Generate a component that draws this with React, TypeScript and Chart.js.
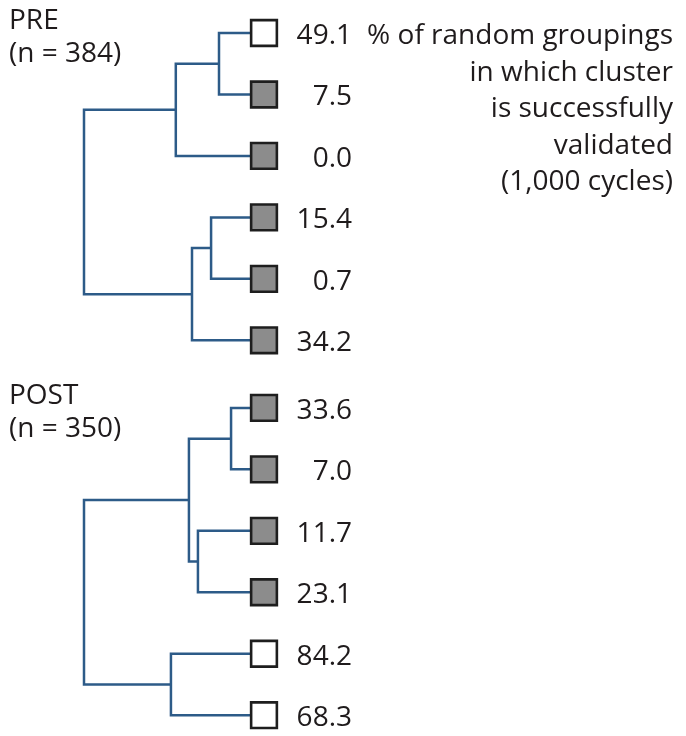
import React, { useEffect, useRef } from "react";
import { Chart, registerables } from "chart.js";

Chart.register(...registerables);

// Leaves (top to bottom)
const leafLabels = ["49.1", "7.5", "0.0", "15.4", "0.7", "34.2", "33.6", "7.0", "11.7", "23.1", "84.2", "68.3"];
const leafValues = [49.1, 7.5, 0.0, 15.4, 0.7, 34.2, 33.6, 7.0, 11.7, 23.1, 84.2, 68.3];
const leafRows = [0, 1, 2, 3, 4, 5, 6.1, 7.1, 8.1, 9.1, 10.1, 11.1];
const leafValidated = [false, true, true, true, true, true, true, true, true, true, false, false];

// Internal nodes of the dendrograms
const nodeNames = ["A", "B", "C", "D", "PRE", "E", "F", "G", "H", "POST"];
const nodeLeft = ["L0", "A", "L3", "C", "B", "L6", "L8", "E", "L10", "G"];
const nodeRight = ["L1", "L2", "L4", "L5", "D", "L7", "L9", "F", "L11", "H"];
const nodeHeights = [0.25, 0.49, 0.294, 0.4, 1.0, 0.183, 0.367, 0.417, 0.517, 1.0];

// Group labels
const groupNames = ["PRE", "POST"];
const groupSizes = ["(n = 384)", "(n = 350)"];
const groupFirstLeaf = [0, 6];

// Annotation text
const noteLines = ["% of random groupings", "in which cluster", "is successfully", "validated", "(1,000 cycles)"];

const LINE_COLOR = "#2d5b88";
const TEXT_COLOR = "#1f1b1c";
const FONT = '28px "Open Sans"';

function nodeInfo(name: string): { x: number; y: number } {
  if (name.startsWith("L")) {
    const i = parseInt(name.slice(1), 10);
    return { x: 0, y: leafRows[i] };
  }
  const k = nodeNames.indexOf(name);
  const l = nodeInfo(nodeLeft[k]);
  const r = nodeInfo(nodeRight[k]);
  return { x: nodeHeights[k], y: (l.y + r.y) / 2 };
}

export default function App() {
  const ref = useRef<HTMLCanvasElement | null>(null);

  useEffect(() => {
    if (!ref.current) return;

    const branchSets = nodeNames.map((name, k) => {
      const l = nodeInfo(nodeLeft[k]);
      const r = nodeInfo(nodeRight[k]);
      const h = nodeHeights[k];
      return {
        label: name,
        data: [
          { x: l.x, y: l.y },
          { x: h, y: l.y },
          { x: h, y: r.y },
          { x: r.x, y: r.y },
        ],
        showLine: true,
        borderColor: LINE_COLOR,
        borderWidth: 2.5,
        borderJoinStyle: "miter" as const,
        borderCapStyle: "butt" as const,
        pointRadius: 0,
        tension: 0,
        clip: false as any,
      };
    });

    const leafSet = {
      label: "leaves",
      data: leafRows.map((r) => ({ x: 0, y: r })),
      showLine: false,
      pointStyle: "rect" as const,
      pointRadius: 18.2,
      pointHoverRadius: 18.2,
      pointBackgroundColor: leafValidated.map((v) => (v ? "#8c8c8c" : "#ffffff")),
      pointBorderColor: "#1e1e1e",
      pointBorderWidth: 2.6,
      clip: false as any,
    };

    const textPlugin = {
      id: "dendroText",
      afterDatasetsDraw(chart: any) {
        const ctx = chart.ctx;
        const ys = chart.scales.y;
        ctx.save();
        ctx.fillStyle = TEXT_COLOR;
        ctx.font = FONT;
        ctx.textBaseline = "alphabetic";
        // leaf values
        ctx.textAlign = "right";
        leafLabels.forEach((t, i) => {
          const py = ys.getPixelForValue(leafRows[i]);
          ctx.fillText(t, 352, py + 11);
        });
        // annotation
        const y0 = ys.getPixelForValue(leafRows[0]);
        noteLines.forEach((t, i) => {
          ctx.fillText(t, 673, y0 + 11 + i * 36.5);
        });
        // group labels
        ctx.textAlign = "left";
        groupNames.forEach((g, i) => {
          const py = ys.getPixelForValue(leafRows[groupFirstLeaf[i]]);
          ctx.fillText(g, 9, py - 4);
          ctx.fillText(groupSizes[i], 9, py + 29);
        });
        ctx.restore();
      },
    };

    const chart = new Chart(ref.current, {
      type: "scatter",
      data: { datasets: [leafSet as any, ...(branchSets as any[])] },
      options: {
        animation: false,
        responsive: true,
        maintainAspectRatio: false,
        layout: { padding: { left: 84, right: 422, top: 33, bottom: 19 } },
        scales: {
          x: { type: "linear", reverse: true, min: 0, max: 1, display: false },
          y: { type: "linear", reverse: true, min: 0, max: 11.1, display: false },
        },
        plugins: {
          legend: { display: false },
          tooltip: { enabled: false },
        },
        events: [],
      },
      plugins: [textPlugin],
    });

    return () => chart.destroy();
  }, []);

  return (
    <div style={{ position: "absolute", left: 0, top: 0, width: 686, height: 736, background: "#fff" }}>
      <canvas ref={ref} />
    </div>
  );
}
